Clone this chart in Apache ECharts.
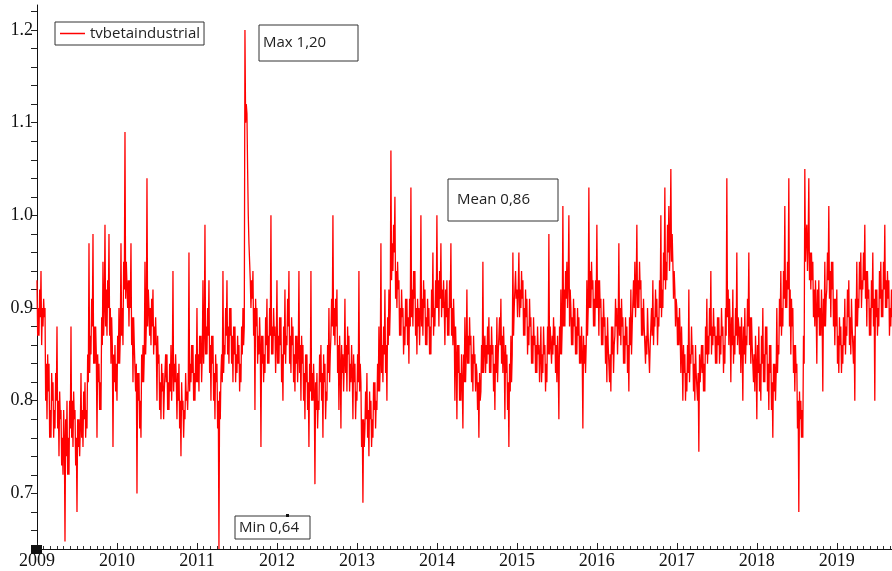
<!DOCTYPE html>
<html>
<head>
<meta charset="utf-8">
<script src="https://cdn.jsdelivr.net/npm/echarts@6/dist/echarts.min.js"></script>
<style>
  html, body { margin: 0; padding: 0; background: #ffffff; }
  #chart { width: 892px; height: 571px; }
</style>
</head>
<body>
<div id="chart"></div>
<script>
// tvbetaindustrial, 2009 to early September 2019.
// Each year has 40 slots. Per slot there are three readings, in time order:
//   swing - the spike at the outer edge of the band
//   edge  - the opposite edge of the dense band
//   body  - the middle of the dense band
const years = [2009, 2010, 2011, 2012, 2013, 2014, 2015, 2016, 2017, 2018, 2019];
const slotsPerYear = 40;

const swing2009 = [0.93,0.87,0.94,0.88,0.90,0.78,0.84,0.76,0.82,0.77, 0.88,0.74,0.79,0.72,0.648,0.80,0.72,0.88,0.75,0.79, 0.68,0.78,0.83,0.75,0.82,0.77,0.97,0.85,0.98,0.84, 0.76,0.84,0.79,0.95,0.99,0.87,0.98,0.84,0.75,0.86];
const edge2009  = [0.87,0.92,0.86,0.91,0.80,0.85,0.76,0.83,0.76,0.83, 0.77,0.81,0.73,0.79,0.78,0.72,0.80,0.76,0.81,0.73, 0.78,0.74,0.76,0.81,0.76,0.85,0.83,0.91,0.84,0.88, 0.85,0.79,0.89,0.87,0.88,0.93,0.87,0.89,0.85,0.81];
const body2009  = [0.90,0.89,0.90,0.89,0.84,0.81,0.79,0.80,0.79,0.80, 0.80,0.78,0.76,0.76,0.74,0.76,0.77,0.80,0.78,0.76, 0.75,0.77,0.79,0.78,0.79,0.82,0.87,0.88,0.88,0.85, 0.82,0.82,0.86,0.90,0.92,0.90,0.90,0.86,0.82,0.84];

const swing2010 = [0.80,0.90,0.97,0.86,1.09,0.95,0.88,0.97,0.82,0.86, 0.70,0.83,0.76,0.86,0.95,1.04,0.90,0.86,0.92,0.86, 0.80,0.85,0.78,0.83,0.81,0.85,0.79,0.86,0.94,0.82, 0.78,0.84,0.74,0.80,0.78,0.81,0.96,0.82,0.86,0.80];
const edge2010  = [0.87,0.84,0.87,0.95,0.91,0.90,0.93,0.86,0.89,0.81, 0.83,0.77,0.85,0.82,0.85,0.88,0.87,0.91,0.85,0.89, 0.87,0.79,0.84,0.78,0.85,0.79,0.84,0.80,0.81,0.85, 0.83,0.77,0.82,0.76,0.83,0.79,0.81,0.86,0.80,0.85];
const body2010  = [0.84,0.87,0.90,0.92,0.95,0.93,0.90,0.89,0.86,0.84, 0.80,0.80,0.82,0.85,0.88,0.92,0.90,0.88,0.88,0.86, 0.84,0.82,0.81,0.81,0.82,0.82,0.81,0.83,0.84,0.82, 0.80,0.80,0.79,0.79,0.80,0.82,0.84,0.83,0.83,0.82];

const swing2011 = [0.90,0.81,0.87,0.93,0.99,0.85,0.93,0.80,0.87,0.78, 0.84,0.64,0.83,0.94,0.85,0.93,0.84,0.90,0.82,0.88, 0.83,0.86,0.82,0.90,1.20,1.11,0.97,0.90,0.94,0.79, 0.90,0.85,0.75,0.87,0.83,0.91,0.84,1.00,0.85,0.88];
const edge2011  = [0.82,0.87,0.82,0.84,0.85,0.90,0.83,0.87,0.80,0.85, 0.77,0.81,0.85,0.83,0.90,0.85,0.90,0.84,0.88,0.82, 0.87,0.81,0.88,0.86,1.10,1.05,0.95,0.93,0.87,0.91, 0.84,0.89,0.87,0.82,0.89,0.84,0.90,0.85,0.90,0.83];
const body2011  = [0.85,0.84,0.85,0.87,0.88,0.87,0.86,0.84,0.83,0.82, 0.80,0.78,0.82,0.86,0.87,0.88,0.87,0.87,0.85,0.85, 0.84,0.84,0.85,0.88,1.12,1.00,0.93,0.91,0.90,0.88, 0.87,0.86,0.84,0.85,0.86,0.87,0.87,0.88,0.87,0.86];

const swing2012 = [0.93,0.84,0.89,0.80,0.92,0.86,0.94,0.83,0.88,0.81, 0.87,0.94,0.80,0.86,0.78,0.85,0.75,0.94,0.80,0.71, 0.83,0.79,0.86,0.76,0.84,0.80,0.90,0.87,1.00,0.86, 0.92,0.79,0.77,0.85,0.91,0.81,0.87,0.82,0.78,0.84];
const edge2012  = [0.84,0.89,0.82,0.88,0.84,0.91,0.84,0.89,0.82,0.87, 0.82,0.83,0.87,0.80,0.85,0.79,0.84,0.80,0.84,0.82, 0.77,0.85,0.80,0.85,0.78,0.86,0.82,0.91,0.87,0.91, 0.83,0.87,0.86,0.81,0.83,0.88,0.81,0.86,0.85,0.78];
const body2012  = [0.87,0.86,0.85,0.85,0.87,0.88,0.87,0.86,0.85,0.84, 0.85,0.86,0.84,0.83,0.82,0.82,0.81,0.83,0.81,0.79, 0.80,0.82,0.83,0.82,0.81,0.83,0.85,0.88,0.90,0.88, 0.86,0.84,0.83,0.84,0.86,0.85,0.84,0.83,0.82,0.81];

const swing2013 = [0.80,0.94,0.82,0.69,0.77,0.83,0.74,0.80,0.76,0.82, 0.79,0.88,0.97,0.82,0.92,0.80,0.92,1.07,0.94,1.02, 0.90,0.93,0.87,0.90,0.86,0.91,0.84,1.03,0.88,0.94, 0.85,0.90,1.00,0.87,0.92,0.86,0.90,0.85,0.96,0.88];
const edge2013  = [0.85,0.81,0.75,0.78,0.81,0.76,0.81,0.75,0.82,0.77, 0.84,0.81,0.83,0.88,0.83,0.89,0.87,0.93,0.99,0.91, 0.95,0.87,0.92,0.85,0.91,0.86,0.91,0.89,0.94,0.87, 0.91,0.86,0.88,0.93,0.86,0.91,0.85,0.92,0.87,0.93];
const body2013  = [0.82,0.84,0.78,0.75,0.78,0.79,0.78,0.78,0.79,0.80, 0.81,0.84,0.86,0.85,0.86,0.86,0.90,0.97,0.96,0.94, 0.92,0.90,0.89,0.88,0.88,0.89,0.88,0.92,0.91,0.90, 0.88,0.89,0.91,0.90,0.89,0.88,0.88,0.89,0.90,0.90];

const swing2014 = [1.00,0.88,0.97,0.90,0.86,0.93,0.87,0.97,0.86,0.80, 0.78,0.86,0.80,0.77,0.89,0.92,0.84,0.87,0.81,0.85, 0.83,0.76,0.81,0.95,0.87,0.84,0.89,0.83,0.86,0.79, 0.89,0.85,0.91,0.83,0.78,0.85,0.75,0.87,0.96,0.90];
const edge2014  = [0.90,0.94,0.89,0.93,0.92,0.87,0.93,0.87,0.91,0.88, 0.86,0.80,0.85,0.85,0.82,0.84,0.89,0.82,0.87,0.81, 0.79,0.83,0.86,0.83,0.83,0.88,0.83,0.88,0.81,0.86, 0.82,0.89,0.84,0.88,0.86,0.79,0.84,0.82,0.87,0.94];
const body2014  = [0.93,0.91,0.92,0.90,0.89,0.90,0.90,0.90,0.88,0.85, 0.83,0.83,0.82,0.82,0.85,0.87,0.86,0.85,0.84,0.84, 0.82,0.80,0.83,0.86,0.86,0.85,0.86,0.85,0.84,0.83, 0.85,0.86,0.87,0.85,0.83,0.82,0.81,0.85,0.90,0.91];

const swing2015 = [0.92,0.96,0.90,0.93,0.87,0.91,0.86,0.89,0.84,0.87, 0.83,0.86,0.88,0.83,0.86,0.82,0.98,0.88,0.85,0.88, 0.82,0.78,0.92,1.01,0.88,0.95,1.00,0.90,0.86,0.90, 0.85,0.89,0.84,0.77,0.86,0.93,1.03,0.90,0.93,0.88];
const edge2015  = [0.89,0.89,0.94,0.87,0.92,0.85,0.91,0.84,0.89,0.83, 0.88,0.82,0.82,0.88,0.81,0.88,0.85,0.84,0.89,0.83, 0.87,0.88,0.85,0.88,0.94,0.90,0.88,0.86,0.91,0.85, 0.90,0.84,0.88,0.87,0.83,0.87,0.90,0.95,0.88,0.93];
const body2015  = [0.92,0.92,0.91,0.90,0.89,0.88,0.88,0.87,0.86,0.86, 0.85,0.85,0.85,0.85,0.84,0.85,0.88,0.87,0.86,0.86, 0.84,0.85,0.88,0.92,0.91,0.93,0.92,0.89,0.88,0.88, 0.87,0.87,0.85,0.84,0.86,0.90,0.94,0.92,0.91,0.90];

const swing2016 = [0.99,0.87,0.91,0.86,0.89,0.82,0.86,0.81,0.88,0.87, 0.90,0.97,0.86,0.89,0.84,0.88,0.81,0.92,0.88,0.95, 0.99,0.90,0.93,0.87,0.88,0.85,0.87,0.86,0.93,0.88, 0.91,0.88,1.00,0.90,1.03,0.93,1.01,1.05,0.95,0.92];
const edge2016  = [0.90,0.93,0.86,0.91,0.84,0.89,0.82,0.88,0.83,0.91, 0.85,0.87,0.91,0.84,0.89,0.83,0.89,0.85,0.93,0.89, 0.90,0.95,0.87,0.91,0.84,0.90,0.83,0.90,0.86,0.92, 0.86,0.93,0.89,0.96,0.92,0.99,0.94,0.95,0.91,0.88];
const body2016  = [0.93,0.90,0.89,0.88,0.87,0.86,0.85,0.85,0.86,0.88, 0.88,0.90,0.88,0.87,0.86,0.86,0.86,0.88,0.90,0.92, 0.93,0.92,0.90,0.88,0.87,0.87,0.86,0.87,0.89,0.89, 0.89,0.90,0.92,0.93,0.95,0.96,0.97,0.98,0.94,0.91];

const swing2017 = [0.90,0.86,0.83,0.80,0.85,0.81,0.92,0.84,0.86,0.80, 0.83,0.745,0.82,0.86,0.81,0.91,0.85,0.94,0.86,0.88, 0.84,0.89,0.85,0.88,0.84,1.04,0.86,0.82,0.92,0.85, 0.96,0.88,0.83,0.80,0.90,0.86,0.96,0.84,0.86,0.81];
const edge2017  = [0.86,0.90,0.88,0.86,0.80,0.86,0.82,0.88,0.81,0.86, 0.80,0.85,0.86,0.81,0.88,0.84,0.90,0.85,0.90,0.84, 0.89,0.84,0.90,0.83,0.90,0.89,0.91,0.89,0.84,0.90, 0.86,0.85,0.89,0.88,0.84,0.91,0.86,0.89,0.82,0.87];
const body2017  = [0.89,0.87,0.85,0.83,0.83,0.83,0.85,0.85,0.84,0.83, 0.83,0.82,0.83,0.84,0.85,0.87,0.87,0.88,0.87,0.87, 0.86,0.87,0.87,0.86,0.87,0.92,0.88,0.86,0.87,0.87, 0.89,0.88,0.86,0.85,0.87,0.88,0.89,0.86,0.85,0.84];

const swing2018 = [0.78,0.88,0.80,0.90,0.82,0.88,0.79,0.86,0.76,0.84, 0.90,0.85,0.94,0.88,1.01,0.90,1.04,0.85,0.90,0.81, 0.84,0.68,0.80,0.76,1.05,0.99,1.04,0.92,0.95,0.88, 0.84,0.93,0.87,0.81,0.95,0.92,1.01,0.89,0.95,0.86];
const edge2018  = [0.86,0.81,0.87,0.82,0.88,0.81,0.86,0.79,0.84,0.80, 0.83,0.91,0.87,0.94,0.90,0.95,0.88,0.91,0.83,0.86, 0.77,0.81,0.76,0.87,0.95,0.94,0.93,0.96,0.89,0.93, 0.92,0.87,0.92,0.91,0.88,0.96,0.91,0.95,0.88,0.91];
const body2018  = [0.83,0.84,0.84,0.85,0.85,0.84,0.83,0.82,0.81,0.83, 0.86,0.88,0.90,0.91,0.93,0.92,0.92,0.88,0.86,0.83, 0.80,0.78,0.79,0.84,0.98,0.97,0.96,0.93,0.92,0.90, 0.89,0.90,0.89,0.88,0.91,0.93,0.94,0.92,0.91,0.88];

const swing2019 = [0.92,0.83,0.88,0.84,0.91,0.87,0.93,0.85,0.88,0.80, 0.95,0.90,0.96,0.92,0.99,0.88,0.92,0.87,0.96,0.80, 0.92,0.88,0.95,0.89,0.99,0.90,0.93,0.88];
const edge2019  = [0.84,0.89,0.83,0.89,0.85,0.92,0.86,0.91,0.84,0.91, 0.88,0.95,0.90,0.96,0.91,0.94,0.87,0.93,0.88,0.92, 0.87,0.94,0.89,0.95,0.90,0.94,0.87,0.92];
const body2019  = [0.87,0.86,0.86,0.86,0.88,0.89,0.89,0.88,0.87,0.88, 0.91,0.92,0.93,0.93,0.94,0.91,0.90,0.90,0.91,0.89, 0.90,0.91,0.92,0.92,0.93,0.91,0.90,0.89];

const swingByYear = [swing2009, swing2010, swing2011, swing2012, swing2013, swing2014,
                     swing2015, swing2016, swing2017, swing2018, swing2019];
const edgeByYear  = [edge2009, edge2010, edge2011, edge2012, edge2013, edge2014,
                     edge2015, edge2016, edge2017, edge2018, edge2019];
const bodyByYear  = [body2009, body2010, body2011, body2012, body2013, body2014,
                     body2015, body2016, body2017, body2018, body2019];

// y-axis labels (every 0.1)
const yTickLabels = ['0.7', '0.8', '0.9', '1.0', '1.1', '1.2'];

// summary statistics shown in the boxes
const statMax = 1.20;
const statMean = 0.86;
const statMin = 0.64;
const fmtComma = v => v.toFixed(2).replace('.', ',');

// (decimal year, value) pairs in time order
const seriesData = [];
years.forEach((yr, k) => {
  swingByYear[k].forEach((v, i) => {
    seriesData.push([yr + i / slotsPerYear, v]);
    seriesData.push([yr + (i + 1 / 3) / slotsPerYear, edgeByYear[k][i]]);
    seriesData.push([yr + (i + 2 / 3) / slotsPerYear, bodyByYear[k][i]]);
  });
});

const serif = "'Liberation Serif', 'DejaVu Serif', 'Times New Roman', serif";
const sans = "'Open Sans', 'Noto Sans', sans-serif";

const chart = echarts.init(document.getElementById('chart'), null, { renderer: 'canvas' });

function statBox(x, y, w, h, text, textX, textY) {
  return {
    type: 'group',
    children: [
      { type: 'rect', shape: { x: x, y: y, width: w, height: h },
        style: { fill: '#ffffff', stroke: '#333333', lineWidth: 1 }, z: 10 },
      { type: 'text', x: textX, y: textY, z: 11,
        style: { text: text, fill: '#222222', fontFamily: sans, fontSize: 15, verticalAlign: 'middle' } }
    ]
  };
}

const axisFont = { color: '#111111', fontFamily: serif, fontSize: 18, fontWeight: 'normal' };

chart.setOption({
  animation: false,
  backgroundColor: '#ffffff',
  textStyle: { fontFamily: serif },
  grid: { left: 37, right: 0, top: 5, bottom: 22, containLabel: false },
  legend: {
    left: 55, top: 22,
    padding: [4, 4, 4, 5],
    borderColor: '#333333', borderWidth: 1,
    backgroundColor: '#ffffff',
    icon: 'rect', itemWidth: 25, itemHeight: 1.5, itemGap: 5,
    textStyle: { fontFamily: sans, fontSize: 15, color: '#222222' },
    data: ['tvbetaindustrial']
  },
  xAxis: {
    type: 'value',
    min: years[0],
    max: 2019.69,
    interval: 1,
    axisLine: { show: true, onZero: false, lineStyle: { color: '#111111', width: 1 } },
    axisTick: { show: true, inside: true, length: 6, lineStyle: { color: '#222222' } },
    minorTick: { show: true, splitNumber: 12, length: 3, lineStyle: { color: '#333333' } },
    splitLine: { show: false },
    axisLabel: Object.assign({
      margin: 3,
      showMaxLabel: false,
      formatter: v => String(Math.round(v))
    }, axisFont)
  },
  yAxis: {
    type: 'value',
    min: 0.64,
    max: 1.227,
    interval: 0.02,
    axisLine: { show: true, onZero: false, lineStyle: { color: '#111111', width: 1 } },
    axisTick: { show: true, inside: false, length: 6, lineStyle: { color: '#222222' } },
    splitLine: { show: false },
    axisLabel: Object.assign({
      margin: 4,
      showMaxLabel: false,
      formatter: v => {
        const t = Math.round(v * 10) / 10;
        if (Math.abs(v - t) > 1e-6) return '';
        const s = t.toFixed(1);
        return yTickLabels.indexOf(s) >= 0 ? s : '';
      }
    }, axisFont)
  },
  series: [{
    name: 'tvbetaindustrial',
    type: 'line',
    data: seriesData,
    showSymbol: false,
    symbol: 'none',
    sampling: null,
    lineStyle: { color: '#ff0000', width: 1.3 },
    itemStyle: { color: '#ff0000' }
  }],
  graphic: [
    statBox(259, 25, 99, 36, 'Max ' + fmtComma(statMax), 263, 43),
    statBox(448, 179, 110, 42, 'Mean ' + fmtComma(statMean), 457, 200),
    statBox(235, 516, 75, 23, 'Min ' + fmtComma(statMin), 239, 528),
    { type: 'rect', shape: { x: 286, y: 514, width: 3, height: 3 }, style: { fill: '#111111' }, z: 12 },
    { type: 'rect', shape: { x: 31, y: 545, width: 11, height: 9 }, style: { fill: '#111111' }, z: 12 }
  ]
});
</script>
</body>
</html>
